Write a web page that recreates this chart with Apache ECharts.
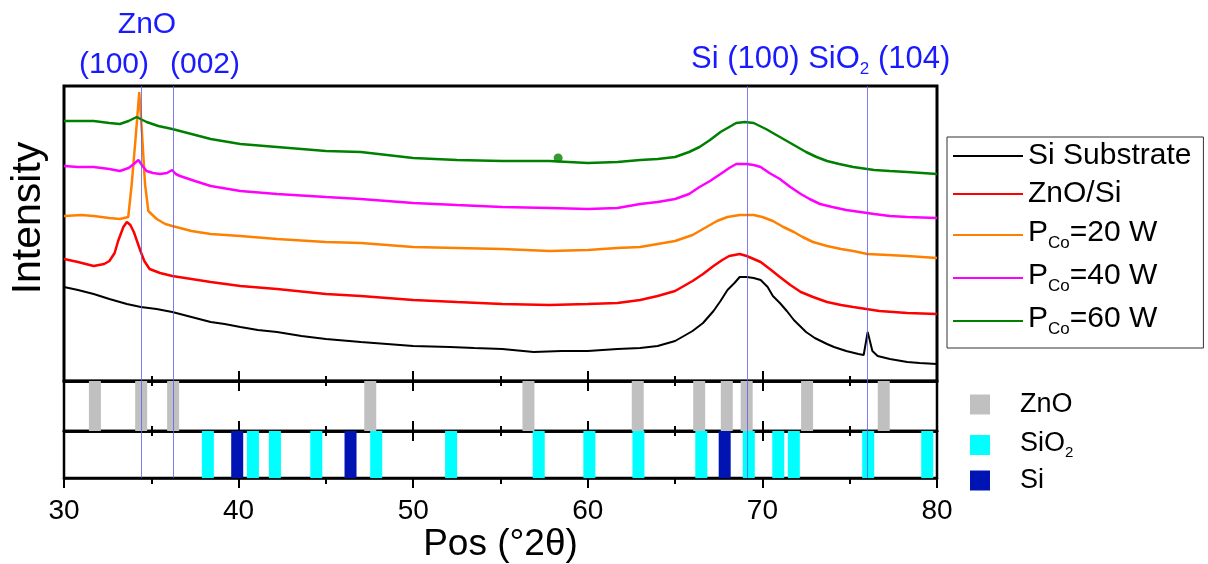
<!DOCTYPE html>
<html><head><meta charset="utf-8">
<script src="https://cdn.jsdelivr.net/npm/echarts@6/dist/echarts.min.js"></script>
<style>html,body{margin:0;padding:0;background:#fff}#c{width:1208px;height:564px}</style>
</head><body><div id="c"></div>
<script>
// ---------- DATA ----------
const xTickLabels = [30, 40, 50, 60, 70, 80];
const seriesNames = ['Si Substrate', 'ZnO/Si', 'P_Co=20 W', 'P_Co=40 W', 'P_Co=60 W'];
const seriesColors = ['#000000', '#ff0000', '#ff8000', '#ff00ff', '#008000'];

const siSubstrate = [[30.0,94],[30.8,91],[31.7,87],[32.6,82],[33.6,77],[34.4,74],[35.3,72],[36.2,69],[37.3,64],[38.4,59],[39.2,57],[40.1,54],[41.1,51],[42.2,49],[43.6,45],[45.0,42],[47.0,39],[48.5,37],[50.0,35],[52.1,34],[53.5,33],[55.1,32],[56.9,29],[58.5,30],[60.0,30],[61.7,32],[63.0,33],[64.0,35],[65.0,40],[66.0,50],[66.6,58],[67.2,70],[67.6,80],[68.0,91],[68.4,98],[68.7,104],[69.1,104],[69.5,103],[69.9,101],[70.3,94],[70.6,85],[71.0,78],[71.4,70],[71.8,61],[72.5,49],[73.0,43],[73.7,37],[74.1,34],[74.8,30],[75.5,27],[75.8,26],[76.03,49],[76.3,30],[76.6,25],[77.3,22],[78.3,19],[79.0,18],[80.0,17]];
const znoSi = [[30.0,122],[30.8,119],[31.7,115],[32.3,117],[32.6,120],[32.9,128],[33.1,140],[33.4,154],[33.6,159],[33.8,156],[34.0,149],[34.2,139],[34.4,129],[34.6,120],[34.9,112],[35.5,108],[36.2,105],[37.3,102],[38.4,99],[40.1,95],[42.2,92],[45.0,87],[47.0,85],[50.0,81],[52.5,79],[55.1,77],[57.8,76],[60.0,77],[61.7,78],[63.0,81],[64.0,85],[65.0,90],[66.0,100],[66.6,107],[67.2,115],[67.7,121],[68.1,125],[68.7,127],[69.1,125],[69.5,122],[69.9,119],[70.5,111],[71.0,104],[71.6,96],[72.2,89],[72.9,84],[73.7,79],[74.5,76],[75.2,74],[76.7,70],[78.3,68],[80.0,67]];
const pCo20 = [[30.0,165],[31.0,166],[31.7,165],[32.6,163],[33.2,162],[33.68,164],[33.88,197],[34.12,247],[34.31,289],[34.47,247],[34.64,197],[34.83,170],[35.31,162],[35.8,157],[36.2,155],[37.3,150],[38.4,147],[40.1,145],[42.2,142],[45.0,139],[47.0,138],[50.0,134],[52.5,133],[55.1,132],[57.8,130],[60.0,131],[61.7,133],[63.0,134],[65.0,140],[66.0,146],[66.8,154],[67.4,160],[68.0,164],[68.7,166],[69.5,166],[70.0,164],[70.6,160],[71.2,154],[71.8,149],[72.3,144],[72.9,139],[73.7,135],[74.5,132],[75.2,130],[76.0,127],[77.2,126],[78.3,125],[80.0,123]];
const pCo40 = [[30.0,215],[30.8,214],[31.7,214],[32.6,212],[33.2,210],[33.7,213],[34.0,217],[34.26,221],[34.5,215],[34.73,210],[35.1,208],[35.5,207],[35.9,208],[36.19,211],[36.4,207],[36.64,205],[37.5,200],[38.4,195],[40.1,190],[42.2,187],[45.0,184],[47.0,182],[50.0,178],[52.5,176],[55.1,174],[57.8,173],[60.0,172],[61.7,173],[63.0,177],[64.0,179],[65.0,182],[65.8,187],[66.4,194],[67.0,200],[67.6,207],[68.1,213],[68.5,217],[69.1,217],[69.5,216],[69.9,214],[70.4,208],[71.0,202],[71.6,194],[72.2,187],[72.7,182],[73.3,177],[74.0,174],[74.8,171],[75.6,169],[76.4,167],[77.3,165],[78.3,164],[80.0,163]];
const pCo60 = [[30.0,260],[30.8,260],[31.7,260],[32.6,258],[33.2,257],[33.7,260],[34.16,264],[34.5,261],[34.73,259],[35.4,255],[36.2,252],[37.3,247],[38.4,242],[40.1,237],[42.2,234],[45.0,230],[47.0,229],[48.5,226],[50.0,223],[52.5,221],[55.1,220],[57.8,220],[60.0,218],[61.7,219],[63.0,221],[64.0,222],[65.0,224],[65.8,229],[66.4,234],[67.0,241],[67.6,249],[68.1,254],[68.5,258],[69.0,259],[69.5,258],[70.2,252],[70.8,246],[71.4,240],[72.0,234],[72.5,229],[73.1,224],[73.7,220],[74.4,217],[75.2,214],[76.4,211],[77.3,210],[78.3,209],[80.0,207]];
const artifactDot = [[58.3,223]];

const znoRef = [31.77, 34.42, 36.25, 47.54, 56.6, 62.86, 66.38, 67.96, 69.1, 72.56, 76.95];
const sio2Ref = [38.24, 40.82, 42.08, 44.45, 47.88, 52.17, 57.19, 60.09, 62.9, 66.5, 69.22, 70.91, 71.8, 76.06, 79.44];
const siRef = [39.92, 46.41, 67.84];
const refLines = [34.42, 36.25, 69.13, 76.03];
const refColors = {ZnO: '#c0c0c0', SiO2: '#00ffff', Si: '#0014b4'};

// ---------- CHART ----------
const FONT = '"Liberation Sans", Arial, sans-serif';
const BLUE = '#1a1aff';
const chart = echarts.init(document.getElementById('c'), null, {renderer: 'canvas'});

const xMin = xTickLabels[0], xMax = xTickLabels[xTickLabels.length - 1], xInt = xTickLabels[1] - xTickLabels[0];
function xAx(grid, pos, inside, showLabel, extra) {
  return Object.assign({
    type: 'value', gridIndex: grid, position: pos, min: xMin, max: xMax, interval: xInt,
    axisLine: {show: true, onZero: false, lineStyle: {color: '#000', width: 2.5}}, splitLine: {show: false},
    axisTick: {show: true, inside: inside, length: 10, lineStyle: {color: '#000', width: 2}},
    minorTick: {show: true, splitNumber: 2, length: inside ? 5 : 6, lineStyle: {color: '#000', width: 2}},
    minorSplitLine: {show: false},
    axisLabel: {show: showLabel, color: '#000', fontSize: 28, fontFamily: FONT, margin: 19}
  }, extra || {});
}
const gridBase = {show: true, borderColor: '#000', borderWidth: 2.5, backgroundColor: 'transparent', left: 64, right: 271};

const curves = [siSubstrate, znoSi, pCo20, pCo40, pCo60];
const series = curves.map((d, i) => ({
  name: seriesNames[i], type: 'line', xAxisIndex: 0, yAxisIndex: 0, data: d,
  symbol: 'none', showSymbol: false, lineStyle: {color: seriesColors[i], width: i === 0 ? 2 : 2.5},
  itemStyle: {color: seriesColors[i]}, animation: false, z: 3
}));
series.push({type: 'scatter', xAxisIndex: 0, yAxisIndex: 0, data: artifactDot, symbolSize: 9,
  itemStyle: {color: '#008000'}, silent: true, animation: false, z: 4});

function markLines() {
  return {symbol: 'none', silent: true, animation: false, label: {show: false},
    lineStyle: {color: '#5c5ce6', width: 1, type: 'solid', opacity: 0.8},
    data: refLines.map(v => ({xAxis: v}))};
}
[[0, 0], [1, 1], [3, 2]].forEach(([xi, yi]) => {
  series.push({type: 'line', xAxisIndex: xi, yAxisIndex: yi, data: [], markLine: markLines(), z: 6, animation: false});
});

function refBars(name, positions, xi, yi) {
  return {
    name: name, type: 'custom', xAxisIndex: xi, yAxisIndex: yi,
    data: positions.map(p => [p, 1]),
    itemStyle: {color: refColors[name]}, animation: false, z: 2,
    renderItem: function (params, api) {
      const x = api.value(0);
      const top = api.coord([x, 1]);
      const bot = api.coord([x, 0]);
      return {type: 'rect', shape: {x: top[0] - 6, y: top[1], width: 12, height: bot[1] - top[1]},
        style: {fill: api.visual('color')}};
    }
  };
}
series.push(refBars('ZnO', znoRef, 1, 1));
series.push(refBars('SiO2', sio2Ref, 3, 2));
series.push(refBars('Si', siRef, 3, 2));

const option = {
  backgroundColor: '#fff',
  animation: false,
  grid: [
    Object.assign({}, gridBase, {top: 86, height: 295, borderWidth: 3}),
    Object.assign({}, gridBase, {top: 381, height: 50}),
    Object.assign({}, gridBase, {top: 431, height: 49})
  ],
  xAxis: [
    xAx(0, 'bottom', true, false),
    xAx(1, 'top', true, false),
    xAx(1, 'bottom', true, false),
    xAx(2, 'top', true, false),
    xAx(2, 'bottom', false, true, {name: 'Pos (°2θ)', nameLocation: 'middle', nameGap: 44,
      nameTextStyle: {fontSize: 37, color: '#000', fontFamily: FONT}})
  ],
  yAxis: [
    {type: 'value', gridIndex: 0, min: 0, max: 295, show: false},
    {type: 'value', gridIndex: 1, min: 0, max: 1, show: false},
    {type: 'value', gridIndex: 2, min: 0, max: 1, show: false}
  ],
  legend: [
    {
      data: seriesNames, orient: 'vertical', left: 947, top: 137, padding: [4, 12, 10, 6],
      itemGap: 8, itemWidth: 70, itemHeight: 2, icon: 'rect', borderColor: '#333', borderWidth: 1,
      selectedMode: false,
      formatter: function (n) {
        if (n.indexOf('P_Co') === 0) return '{p|P}{s|Co}{p|' + n.slice(4) + '}';
        return '{n|' + n + '}';
      },
      textStyle: {color: '#000', fontFamily: FONT, fontSize: 30, rich: {
        n: {fontSize: 30, lineHeight: 34, fontFamily: FONT, color: '#000'},
        p: {fontSize: 30, lineHeight: 34, fontFamily: FONT, color: '#000', verticalAlign: 'top'},
        s: {fontSize: 17, lineHeight: 17, fontFamily: FONT, color: '#000', verticalAlign: 'bottom', padding: [18, 0, 0, 0]}
      }}
    },
    {
      data: ['ZnO', 'SiO2', 'Si'], orient: 'vertical', left: 970, top: 391, padding: 0,
      itemGap: 7, itemWidth: 20, itemHeight: 20, icon: 'rect', selectedMode: false,
      formatter: function (n) { return n === 'SiO2' ? '{m|SiO}{s|2}' : '{n|' + n + '}'; },
      textStyle: {color: '#000', fontFamily: FONT, fontSize: 27, rich: {
        n: {fontSize: 27, lineHeight: 30, fontFamily: FONT, color: '#000', padding: [0, 0, 0, 25]},
        m: {fontSize: 27, lineHeight: 30, fontFamily: FONT, color: '#000', padding: [0, 0, 0, 25], verticalAlign: 'top'},
        s: {fontSize: 15, lineHeight: 15, fontFamily: FONT, color: '#000', verticalAlign: 'bottom', padding: [20, 0, 0, 0]}
      }}
    }
  ],
  graphic: [
    {type: 'text', position: [147, 25], style: {text: 'ZnO', fill: BLUE, font: '30px ' + FONT, align: 'center', verticalAlign: 'middle'}},
    {type: 'text', position: [114, 65], style: {text: '(100)', fill: BLUE, font: '30px ' + FONT, align: 'center', verticalAlign: 'middle'}},
    {type: 'text', position: [205, 65], style: {text: '(002)', fill: BLUE, font: '30px ' + FONT, align: 'center', verticalAlign: 'middle'}},
    {type: 'text', position: [691, 44], style: {text: '{n|Si (100) SiO}{s|2}{n| (104)}', fill: BLUE, font: '31px ' + FONT,
      align: 'left', verticalAlign: 'top', rich: {
        n: {fontSize: 31, lineHeight: 34, fontFamily: FONT, fill: BLUE, verticalAlign: 'top'},
        s: {fontSize: 17, lineHeight: 17, fontFamily: FONT, fill: BLUE, verticalAlign: 'bottom', padding: [25, 0, 0, 0]}
      }}},
    {type: 'text', position: [29, 218], rotation: Math.PI / 2, style: {text: 'Intensity', fill: '#000', font: '41px ' + FONT, align: 'center', verticalAlign: 'middle'}}
  ],
  series: series
};
chart.setOption(option);
</script></body></html>
